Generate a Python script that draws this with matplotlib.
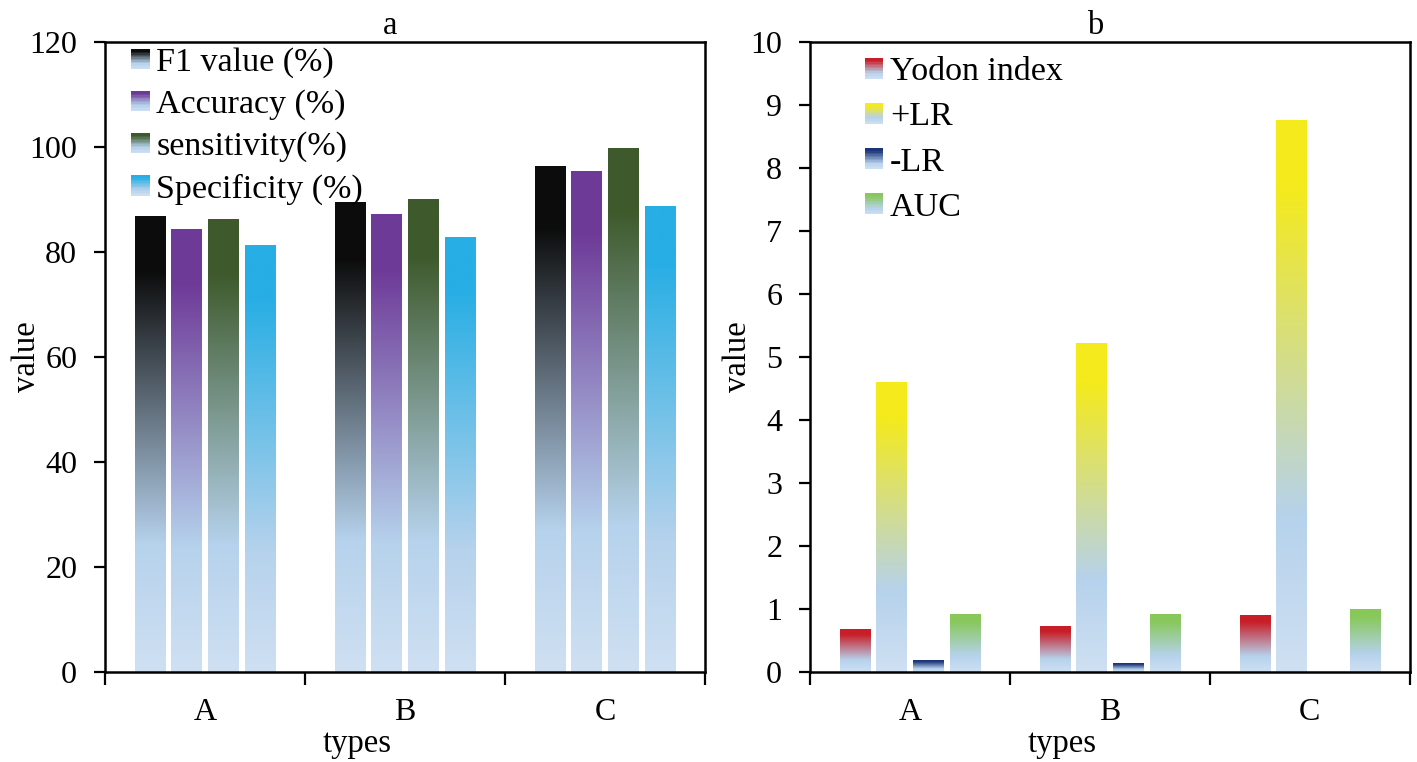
import matplotlib
matplotlib.use("Agg")
import matplotlib.pyplot as plt
import numpy as np
from matplotlib.colors import LinearSegmentedColormap
from matplotlib.patches import Rectangle
from matplotlib.legend_handler import HandlerBase

plt.rcParams['font.family'] = ['Liberation Serif', 'DejaVu Serif']

types = ['A', 'B', 'C']

# panel a
labels_a = ['F1 value (%)', 'Accuracy (%)', 'sensitivity(%)', 'Specificity (%)']
f1_value = [86.7, 89.4, 96.3]
accuracy = [84.2, 87.2, 95.3]
sensitivity = [86.1, 90.0, 99.7]
specificity = [81.3, 82.8, 88.6]
colors_a = ['#0c0c0c', '#6e3a98', '#3e5a2c', '#27aee4']

# panel b
labels_b = ['Yodon index', '+LR', '-LR', 'AUC']
yodon = [0.68, 0.73, 0.89]
plus_lr = [4.59, 5.21, 8.76]
minus_lr = [0.18, 0.14, 0.0]
auc = [0.92, 0.92, 0.99]
colors_b = ['#c81e28', '#f4ea1c', '#1c3478', '#88c85a']

light = '#cfe0f2'
light2 = '#b6d2ec'


def make_cmap(c):
    return LinearSegmentedColormap.from_list(
        'g', [(0, light), (0.28, light2), (0.88, c), (1, c)])


class GradPatch(Rectangle):
    pass


class GradHandler(HandlerBase):
    def create_artists(self, legend, orig_handle, xdescent, ydescent,
                       width, height, fontsize, trans):
        n = 14
        arts = []
        for i in range(n):
            r = Rectangle((-xdescent, -ydescent + height * i / n), width,
                          height / n * 1.05, facecolor=orig_handle.cmap((i + 0.5) / n),
                          edgecolor='none', transform=trans)
            arts.append(r)
        return arts


def grad_bars(ax, xs, vals, width, cmap):
    grad = np.linspace(0, 1, 256).reshape(-1, 1)
    for x, v in zip(xs, vals):
        if v <= 0:
            continue
        ax.imshow(grad, cmap=cmap, origin='lower', aspect='auto',
                  extent=(x - width / 2, x + width / 2, 0, v),
                  interpolation='bilinear', zorder=2)


fig = plt.figure(figsize=(14.17, 7.62), dpi=100)
ax1 = fig.add_axes([0.0741, 0.1181, 0.4234, 0.8268])
ax2 = fig.add_axes([0.5716, 0.1181, 0.4234, 0.8268])

fs = 23.5
fs_tick = 23
fs_leg = 24.5
slot = 0.183
bw = 0.153
x = np.arange(len(types))


def setup(ax, series, labels, colors, ylim, yticks, title, lab_x, leg_kw):
    handles = []
    for i, (vals, lab, col) in enumerate(zip(series, labels, colors)):
        cmap = make_cmap(col)
        grad_bars(ax, x + (i - 1.5) * slot, vals, bw, cmap)
        h = GradPatch((0, 0), 1, 1, label=lab)
        h.cmap = cmap
        handles.append(h)
    ax.set_xlim(-0.5, 2.5)
    ax.set_ylim(*ylim)
    ax.set_yticks(yticks)
    ax.set_xticks([-0.5, 0.5, 1.5, 2.5])
    ax.set_xticklabels([])
    ax.set_xticks(x, minor=True)
    ax.set_xticklabels(types, minor=True)
    ax.tick_params(axis='x', which='major', direction='out', length=9, width=1.6)
    ax.tick_params(axis='x', which='minor', length=0, pad=19, labelsize=fs_tick)
    ax.tick_params(axis='y', direction='out', length=8, width=1.6, pad=12, labelsize=fs_tick)
    for s in ax.spines.values():
        s.set_linewidth(1.8)
    ax.set_xlabel('types', fontsize=fs)
    ax.xaxis.set_label_coords(0.42, -0.09)
    ax.set_ylabel('value', fontsize=fs)
    ax.yaxis.set_label_coords(lab_x, 0.5)
    ax.set_title(title, fontsize=fs, x=0.475, pad=6)
    ax.legend(handles=handles, handler_map={GradPatch: GradHandler()},
              frameon=False, fontsize=fs_leg, loc='upper left',
              handlelength=0.55, handleheight=0.55, handletextpad=0.2, **leg_kw)


setup(ax1, [f1_value, accuracy, sensitivity, specificity], labels_a, colors_a,
      (0, 120), np.arange(0, 121, 20), 'a', -0.105,
      dict(bbox_to_anchor=(-0.008, 1.04), labelspacing=0.33))
setup(ax2, [yodon, plus_lr, minus_lr, auc], labels_b, colors_b,
      (0, 10), np.arange(0, 11, 1), 'b', -0.095,
      dict(bbox_to_anchor=(0.04, 1.025), labelspacing=0.43))

fig.savefig('out.png', dpi=100)
